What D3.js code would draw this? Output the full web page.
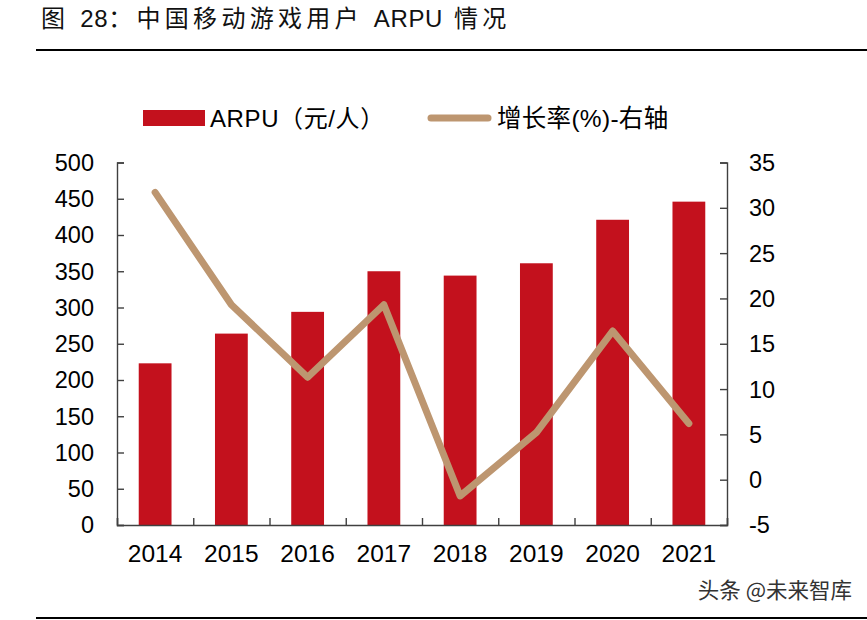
<!DOCTYPE html>
<html><head><meta charset="utf-8">
<script src="https://cdn.jsdelivr.net/npm/d3@7/dist/d3.min.js"></script>
<style>
html,body{margin:0;padding:0;background:#fff;}
svg{display:block;}
</style></head>
<body>
<svg id="chart" width="867" height="620"></svg>
<script>
const categories = ["2014","2015","2016","2017","2018","2019","2020","2021"];
const arpu = [223, 264, 294, 350, 344, 361, 421, 446];
const growth = [31.7, 19.3, 11.3, 19.3, -1.8, 5.2, 16.4, 6.2];
const leftTicks = [0,50,100,150,200,250,300,350,400,450,500];
const rightTicks = [-5,0,5,10,15,20,25,30,35];
const titleParts = [["图 ", true], ["28", false], ["：中国移动游戏用户 ", true], ["ARPU", false], [" 情况", true]];
const legendBar = "ARPU（元/人）";
const legendLine = "增长率(%)-右轴";
const watermark = "头条 @未来智库";

const FONT = "'Liberation Sans', Arial, 'Noto Sans CJK SC', sans-serif";
const svg = d3.select("#chart");
const L = 117, R = 727, T = 162.5, B = 525;
const barColor = "#C3111D", lineColor = "#BD9670", axisColor = "#404040";

const x = d3.scaleBand().domain(categories).range([L, R]).padding(0);
const yL = d3.scaleLinear().domain([0, 500]).range([B, T]);
const yR = d3.scaleLinear().domain([-5, 35]).range([B, T]);
const bw = x.bandwidth() * 0.43;

// title
const title = svg.append("text").attr("x", 41).attr("y", 27)
  .attr("font-family", "'Liberation Sans', 'Noto Sans CJK SC', sans-serif")
  .attr("font-size", 24).attr("fill", "#111");
title.selectAll("tspan").data(titleParts).join("tspan")
  .attr("letter-spacing", d => d[1] ? "4.3px" : "0.6px")
  .style("white-space", "pre")
  .text(d => d[0]);
svg.append("line").attr("x1", 36).attr("x2", 867).attr("y1", 50).attr("y2", 50)
  .attr("stroke", "#000").attr("stroke-width", 2);
svg.append("line").attr("x1", 36).attr("x2", 867).attr("y1", 618).attr("y2", 618)
  .attr("stroke", "#000").attr("stroke-width", 2);

// bars
svg.append("g").selectAll("rect").data(categories).join("rect")
  .attr("x", (d) => x(d) + (x.bandwidth() - bw) / 2)
  .attr("width", bw)
  .attr("y", (d, i) => yL(arpu[i]))
  .attr("height", (d, i) => B - yL(arpu[i]))
  .attr("fill", barColor);

// axes
const gL = svg.append("g").attr("transform", `translate(${L},0)`)
  .call(d3.axisRight(yL).tickValues(leftTicks).tickSize(7).tickFormat(""));
const gR = svg.append("g").attr("transform", `translate(${R},0)`)
  .call(d3.axisLeft(yR).tickValues(rightTicks).tickSize(7).tickFormat(""));
const xTicks = x.domain().map(d => x(d)).concat([R]);
const xb = d3.scaleLinear().domain([L, R]).range([L, R]);
const gB = svg.append("g").attr("transform", `translate(0,${B})`)
  .call(d3.axisTop(xb).tickValues(xTicks).tickSize(7).tickFormat(""));
[gL, gR, gB].forEach(g => {
  g.selectAll("path.domain").attr("stroke", axisColor).attr("stroke-width", 1.4);
  g.selectAll(".tick line").attr("stroke", axisColor).attr("stroke-width", 1.4);
});

// tick labels
svg.append("g").selectAll("text").data(leftTicks).join("text")
  .attr("x", 94).attr("y", d => yL(d)).attr("dy", "0.36em")
  .attr("text-anchor", "end").attr("font-family", FONT).attr("font-size", 23.5)
  .attr("fill", "#000").text(d => d);
svg.append("g").selectAll("text").data(rightTicks).join("text")
  .attr("x", 749).attr("y", d => yR(d)).attr("dy", "0.36em")
  .attr("text-anchor", "start").attr("font-family", FONT).attr("font-size", 23.5)
  .attr("fill", "#000").text(d => d);
svg.append("g").selectAll("text").data(categories).join("text")
  .attr("x", d => x(d) + x.bandwidth() / 2).attr("y", 562)
  .attr("text-anchor", "middle").attr("font-family", FONT).attr("font-size", 24.5)
  .attr("fill", "#000").text(d => d);

// line
const line = d3.line()
  .x((d, i) => x(categories[i]) + x.bandwidth() / 2)
  .y(d => yR(d));
svg.append("path").datum(growth).attr("d", line)
  .attr("fill", "none").attr("stroke", lineColor).attr("stroke-width", 7)
  .attr("stroke-linecap", "round").attr("stroke-linejoin", "round");

// legend
svg.append("rect").attr("x", 143).attr("y", 110).attr("width", 62).attr("height", 16)
  .attr("fill", barColor);
svg.append("text").attr("x", 210).attr("y", 118).attr("dy", "0.36em")
  .attr("font-family", FONT).attr("font-size", 24).attr("letter-spacing", "0.6px")
  .attr("fill", "#000").text(legendBar);
svg.append("line").attr("x1", 431).attr("x2", 488).attr("y1", 118).attr("y2", 118)
  .attr("stroke", lineColor).attr("stroke-width", 7).attr("stroke-linecap", "round");
svg.append("text").attr("x", 497).attr("y", 118).attr("dy", "0.36em")
  .attr("font-family", FONT).attr("font-size", 24.5).attr("letter-spacing", "0.3px")
  .attr("fill", "#000").text(legendLine);

// watermark
svg.append("text").attr("x", 852).attr("y", 598)
  .attr("text-anchor", "end").attr("font-family", "'Noto Sans CJK SC', sans-serif")
  .attr("font-size", 21.5).attr("fill", "#333").text(watermark);
</script>
</body></html>
